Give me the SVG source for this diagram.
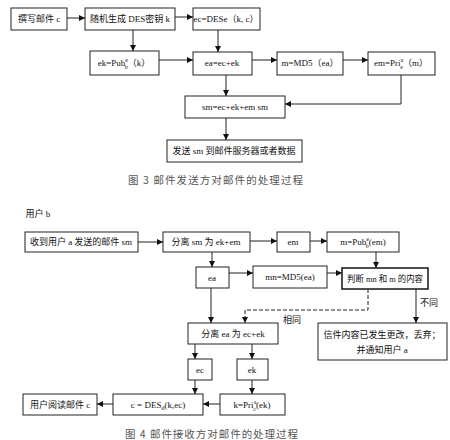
<svg xmlns="http://www.w3.org/2000/svg" width="450" height="440" viewBox="0 0 450 440">
<style>
rect{fill:#fff;stroke:#222;stroke-width:1}
.t{font-family:"Liberation Serif","Noto Sans CJK SC",serif;font-size:9px;fill:#111;text-anchor:middle}
.c{font-family:"Noto Sans CJK SC",sans-serif;font-size:10.5px;fill:#555;text-anchor:start}
.l{fill:none;stroke:#222;stroke-width:1}
.s{font-size:6px}
</style>
<defs>
<marker id="a" markerUnits="userSpaceOnUse" markerWidth="7" markerHeight="6" refX="6" refY="3" orient="auto"><path d="M0,0 L6,3 L0,6 z" fill="#111"/></marker>
</defs>
<rect width="450" height="440" fill="#fff" style="stroke:none"/>

<g id="connectors">
<path class="l" d="M67,18 H85" marker-end="url(#a)"/>
<path class="l" d="M175,17 H193" marker-end="url(#a)"/>
<path class="l" d="M133,30 V51" marker-end="url(#a)"/>
<path class="l" d="M159,60 H193" marker-end="url(#a)"/>
<path class="l" d="M218,30 V52" marker-end="url(#a)"/>
<path class="l" d="M252,60 H277" marker-end="url(#a)"/>
<path class="l" d="M343,60 H368" marker-end="url(#a)"/>
<path class="l" d="M401,75 V104 H285" marker-end="url(#a)"/>
<path class="l" d="M226,75 V96" marker-end="url(#a)"/>
<path class="l" d="M226,118 V140" marker-end="url(#a)"/>

<path class="l" d="M138,242 H163" marker-end="url(#a)"/>
<path class="l" d="M250,241 H277" marker-end="url(#a)"/>
<path class="l" d="M310,241 H327" marker-end="url(#a)"/>
<path class="l" d="M376,252 V268" marker-end="url(#a)"/>
<path class="l" d="M212,252 V267" marker-end="url(#a)"/>
<path class="l" d="M229,273 H253" marker-end="url(#a)"/>
<path class="l" d="M327,273 H342" marker-end="url(#a)"/>
<path class="l" d="M211,288 V323" marker-end="url(#a)"/>
<path class="l" d="M368,289 V310 H245 V323" stroke-dasharray="4,2" marker-end="url(#a)"/>
<path class="l" d="M416,289 V323" marker-end="url(#a)"/>
<path class="l" d="M195,344 V359" marker-end="url(#a)"/>
<path class="l" d="M252,344 V359" marker-end="url(#a)"/>
<path class="l" d="M195,380 V394" marker-end="url(#a)"/>
<path class="l" d="M252,380 V394" marker-end="url(#a)"/>
<path class="l" d="M220,404 H203" marker-end="url(#a)"/>
<path class="l" d="M113,404 H97" marker-end="url(#a)"/>
<text class="t" x="292" y="323">相同</text>
<text class="t" x="429" y="306">不同</text>
</g>

<g id="n1"><rect x="11" y="8" width="56" height="22"/><text class="t" x="39" y="22">撰写邮件 c</text></g>
<g id="n2"><rect x="85" y="8" width="90" height="22"/><text class="t" x="130" y="22">随机生成 DES密钥 k</text></g>
<g id="n3"><rect x="193" y="8" width="67" height="22"/><text class="t" x="226" y="22">ec=DESe（k, c）</text></g>
<g id="n4"><rect x="90" y="51" width="69" height="24"/><text class="t" x="124" y="66">ek=Pub<tspan class="s" dy="-4">e</tspan><tspan class="s" dx="-3.3" dy="7">b</tspan><tspan dy="-3">（k）</tspan></text></g>
<g id="n5"><rect x="193" y="52" width="59" height="23"/><text class="t" x="222" y="66">ea=ec+ek</text></g>
<g id="n6"><rect x="277" y="52" width="66" height="23"/><text class="t" x="310" y="66">m=MD5（ea）</text></g>
<g id="n7"><rect x="368" y="52" width="67" height="23"/><text class="t" x="401" y="66">em=Pri<tspan class="s" dy="-4">a</tspan><tspan class="s" dx="-3" dy="7">e</tspan><tspan dy="-3">（m）</tspan></text></g>
<g id="n8"><rect x="185" y="96" width="100" height="22"/><text class="t" x="235" y="110">sm=ec+ek+em sm</text></g>
<g id="n9"><rect x="167" y="140" width="135" height="22"/><text class="t" x="234" y="154">发送 sm 到邮件服务器或者数据</text></g>
<text class="c" x="128" y="184" textLength="175" lengthAdjust="spacing">图 3  邮件发送方对邮件的处理过程</text>

<text class="t" x="38" y="217">用户 b</text>
<g id="m1"><rect x="25" y="232" width="113" height="20"/><text class="t" x="81" y="245">收到用户 a 发送的邮件 sm</text></g>
<g id="m2"><rect x="163" y="232" width="87" height="20"/><text class="t" x="206" y="245">分离 sm 为 ek+em</text></g>
<g id="m3"><rect x="277" y="232" width="33" height="20"/><text class="t" x="293" y="245">em</text></g>
<g id="m4"><rect x="327" y="232" width="72" height="20"/><text class="t" x="363" y="245">m=Pub<tspan class="s" dy="-4">e</tspan><tspan class="s" dx="-3.3" dy="7">b</tspan><tspan dy="-3">(em)</tspan></text></g>
<g id="m5"><rect x="342" y="268" width="86" height="21" style="stroke-width:1.6"/><text class="t" x="385" y="282" textLength="76" lengthAdjust="spacingAndGlyphs">判断 mn 和 m 的内容</text></g>
<g id="m6"><rect x="196" y="267" width="33" height="21"/><text class="t" x="212" y="281">ea</text></g>
<g id="m7"><rect x="253" y="266" width="74" height="22"/><text class="t" x="290" y="280">mn=MD5(ea)</text></g>
<g id="m8"><rect x="318" y="323" width="129" height="37"/><text class="t" x="382" y="338">信件内容已发生更改，丢弃；</text><text class="t" x="382" y="353">并通知用户 a</text></g>
<g id="m9"><rect x="188" y="323" width="90" height="21"/><text class="t" x="233" y="337">分离 ea 为 ec+ek</text></g>
<g id="m10"><rect x="188" y="359" width="24" height="21"/><text class="t" x="200" y="373">ec</text></g>
<g id="m11"><rect x="237" y="359" width="31" height="21"/><text class="t" x="252" y="373">ek</text></g>
<g id="m12"><rect x="113" y="394" width="90" height="21"/><text class="t" x="158" y="408">c = DES<tspan class="s" dy="2">d</tspan><tspan dy="-2">(k,ec)</tspan></text></g>
<g id="m13"><rect x="220" y="394" width="65" height="21"/><text class="t" x="252" y="408">k=Pri<tspan class="s" dy="-4">a</tspan><tspan class="s" dx="-3" dy="7">c</tspan><tspan dy="-3">(ek)</tspan></text></g>
<g id="m14"><rect x="23" y="394" width="74" height="21"/><text class="t" x="60" y="408">用户阅读邮件 c</text></g>
<text class="c" x="125" y="438" textLength="173" lengthAdjust="spacing">图 4  邮件接收方对邮件的处理过程</text>
</svg>
